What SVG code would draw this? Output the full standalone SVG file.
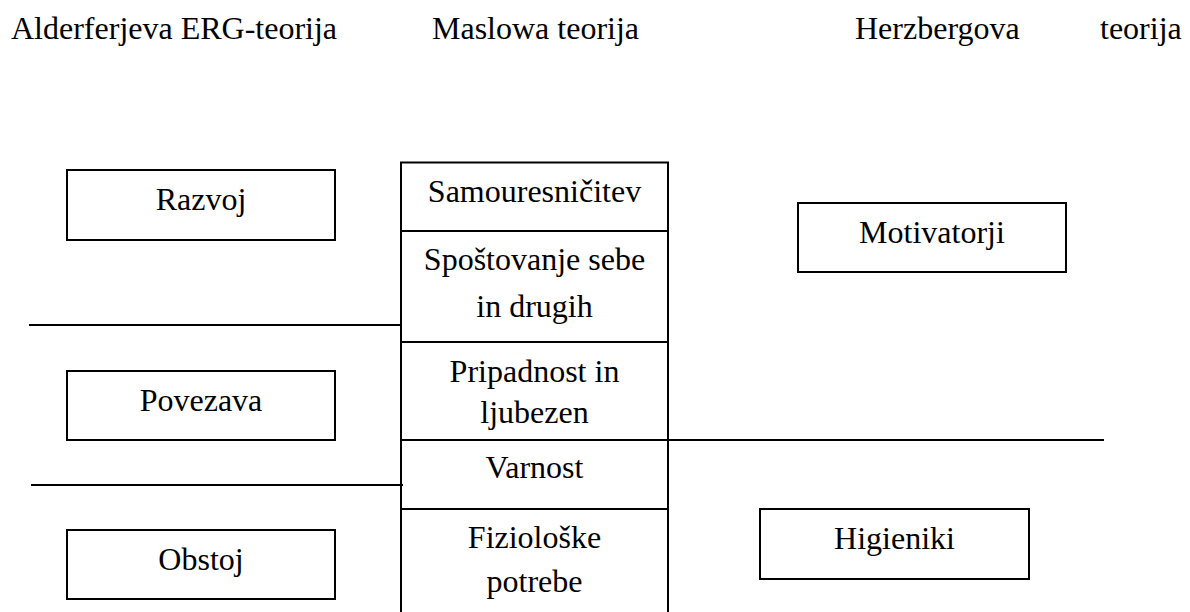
<svg xmlns="http://www.w3.org/2000/svg" width="1190" height="612" viewBox="0 0 1190 612">
<style>
text{font-family:"Liberation Serif","Times New Roman",serif;font-size:32px;fill:#000}
.c{text-anchor:middle}
.b{fill:#fff;stroke:#000;stroke-width:2}
.l{stroke:#000;stroke-width:2;fill:none}
</style>
<rect width="1190" height="612" fill="#fff"/>
<g id="titles">
<text x="11" y="39">Alderferjeva ERG-teorija</text>
<text x="432" y="39">Maslowa teorija</text>
<text x="855" y="39">Herzbergova</text>
<text x="1100" y="39">teorija</text>
</g>
<g id="connectors">
<line class="l" x1="29" y1="325" x2="401" y2="325"/>
<line class="l" x1="31" y1="485" x2="403" y2="485"/>
<line class="l" x1="668" y1="440" x2="1104" y2="440"/>
</g>
<g id="maslow">
<path class="l" d="M401,620 V162.5 H668 V620"/>
<line class="l" x1="401" y1="231" x2="668" y2="231"/>
<line class="l" x1="401" y1="342" x2="668" y2="342"/>
<line class="l" x1="401" y1="440" x2="668" y2="440"/>
<line class="l" x1="401" y1="509" x2="668" y2="509"/>
<text class="c" x="534.5" y="202">Samouresničitev</text>
<text class="c" x="534.5" y="270">Spoštovanje sebe</text>
<text class="c" x="534.5" y="317">in drugih</text>
<text class="c" x="534.5" y="382">Pripadnost in</text>
<text class="c" x="534.5" y="423">ljubezen</text>
<text class="c" x="534.5" y="478">Varnost</text>
<text class="c" x="534.5" y="548">Fiziološke</text>
<text class="c" x="534.5" y="592">potrebe</text>
</g>
<g id="razvoj"><rect class="b" x="67" y="170" width="268" height="70"/><text class="c" x="201" y="210">Razvoj</text></g>
<g id="povezava"><rect class="b" x="67" y="371" width="268" height="69"/><text class="c" x="201" y="411">Povezava</text></g>
<g id="obstoj"><rect class="b" x="67" y="530" width="268" height="69"/><text class="c" x="201" y="570">Obstoj</text></g>
<g id="motivatorji"><rect class="b" x="798" y="203" width="268" height="69"/><text class="c" x="932" y="243">Motivatorji</text></g>
<g id="higieniki"><rect class="b" x="760" y="509" width="269" height="70"/><text class="c" x="894.5" y="549">Higieniki</text></g>
</svg>
